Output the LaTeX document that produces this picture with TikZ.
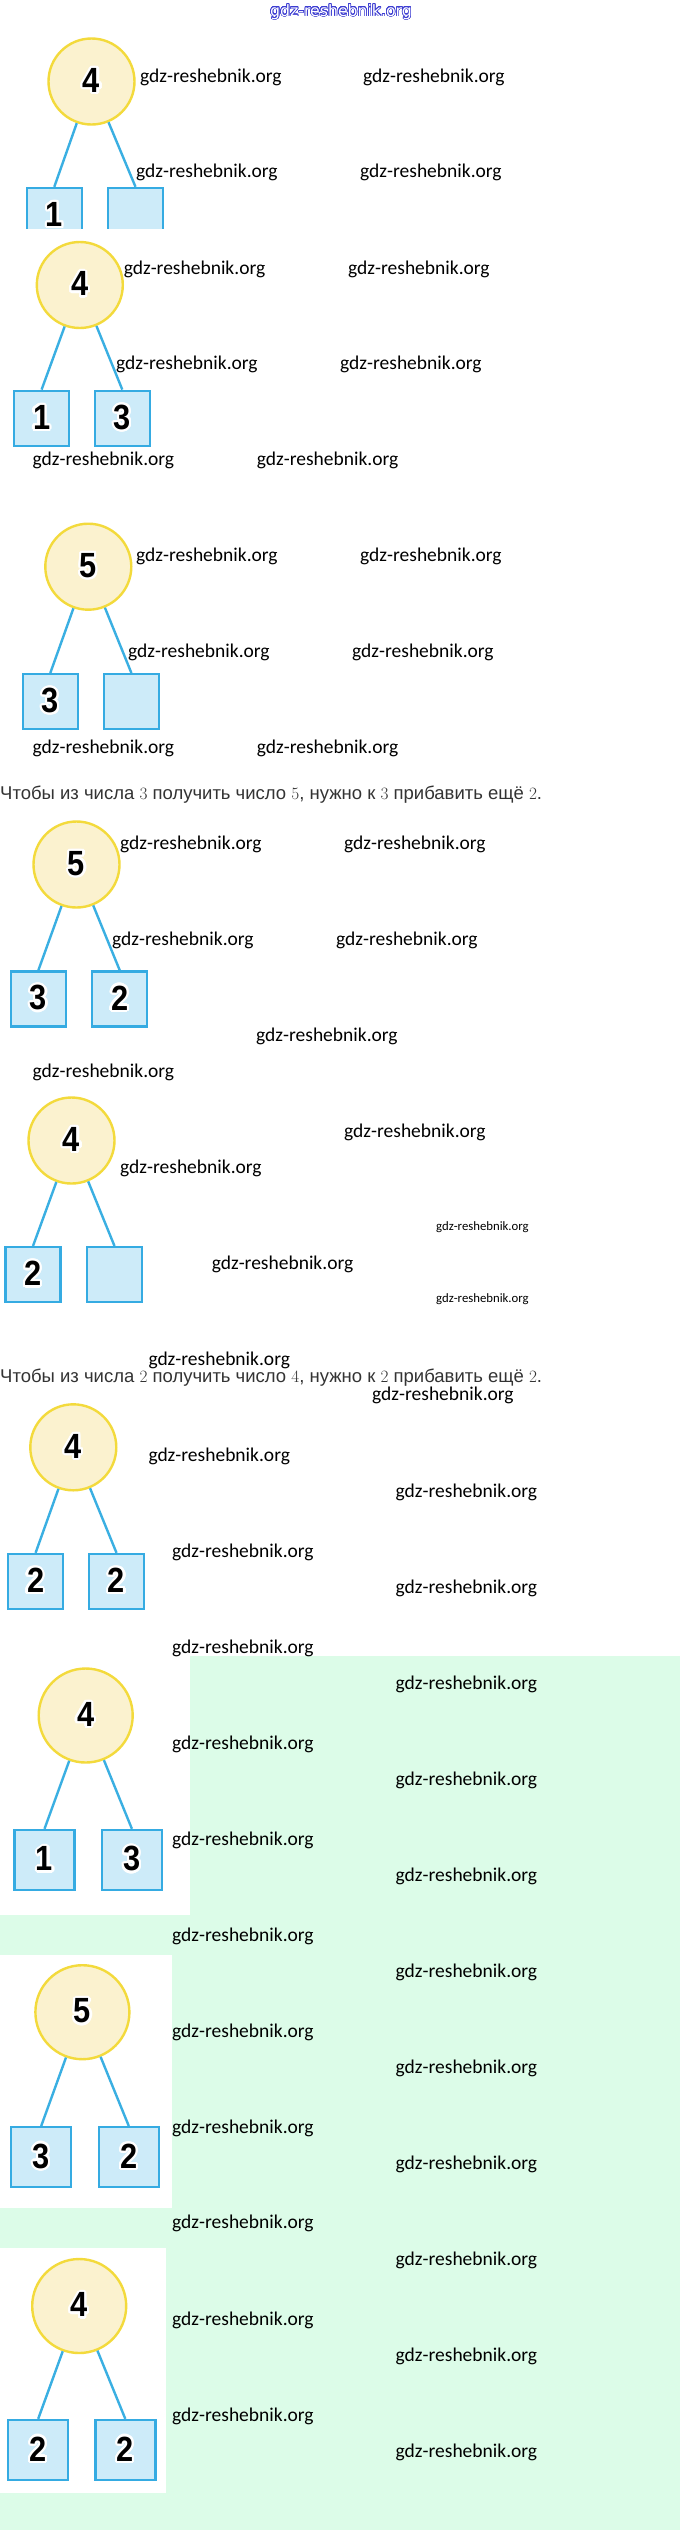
\documentclass[tikz,border=0pt]{standalone}
\usepackage[no-math]{fontspec}
\setmainfont{Liberation Sans}
\newfontfamily\wmfont{Carlito}
\newfontfamily\digfont[FakeStretch=0.88]{Liberation Sans}
\newfontfamily\ttlfont{DejaVu Sans}
\usepackage[copies]{contour}
\contourlength{2.2pt}
\contournumber{24}
\definecolor{circfill}{HTML}{FBF2CF}
\definecolor{circborder}{HTML}{F3DA3C}
\definecolor{boxfill}{HTML}{CDEBF9}
\definecolor{boxborder}{HTML}{35ABE2}
\definecolor{linecol}{HTML}{3AAFE2}
\definecolor{greenbg}{HTML}{DCFCE8}
\definecolor{titleblue}{HTML}{3C3CD2}
\definecolor{senttext}{HTML}{333333}
\newcommand\dg[1]{\contour{white}{#1}}
\begin{document}
\begin{tikzpicture}[x=1pt,y=-1pt,
  circ/.style={circle,draw=circborder,fill=circfill,line width=2.4pt,minimum size=86pt,inner sep=0pt,font=\digfont\bfseries\fontsize{35}{35}\selectfont},
  bigcirc/.style={circ,minimum size=94pt},
  sq/.style={rectangle,draw=boxborder,fill=boxfill,line width=2.4pt,minimum size=55pt,inner sep=0pt,font=\digfont\bfseries\fontsize{35}{35}\selectfont},
  bigsq/.style={sq,minimum size=60pt},
  link/.style={draw=linecol,line width=2.4pt},
  wm/.style={anchor=west,inner sep=0pt,font=\wmfont\fontsize{19.5}{22}\selectfont},
  wms/.style={anchor=west,inner sep=0pt,font=\wmfont\fontsize{12.75}{15}\selectfont},
  sent/.style={anchor=base west,inner sep=0pt,text=senttext,font=\fontsize{18.5}{22}\selectfont}]
\useasboundingbox (0,0) rectangle (680,2530);
\fill[white] (0,0) rectangle (680,2530);
% green background with white panels
\fill[greenbg] (0,1656) rectangle (680,2530);
\fill[white] (0,1656) rectangle (189.5,1915);
\fill[white] (0,1955) rectangle (172,2208);
\fill[white] (0,2248) rectangle (166,2493);
% title
\node[inner sep=0pt,text=white,font=\ttlfont\fontsize{15.7}{18}\selectfont] (title) at (341,12) {\contourlength{0.6pt}\contour{titleblue}{gdz-reshebnik.org}};
% ---- diagram 1 (cropped)
\node[circ] (c1) at (91.5,81.5) {\dg{4}};
\begin{scope}
\clip (0,0) rectangle (680,228);
\node[sq] (b1a) at (54.3,215.5) {\dg{1}};
\node[sq] (b1b) at (135.5,215.5) {};
\end{scope}
\draw[link] (c1) -- (b1a.north);
\draw[link] (c1) -- (b1b.north);
% ---- diagram 2
\node[circ] (c2) at (79.8,285) {\dg{4}};
\node[sq] (b2a) at (41.6,418.3) {\dg{1}};
\node[sq] (b2b) at (122.3,418.3) {\dg{3}};
\draw[link] (c2) -- (b2a.north);
\draw[link] (c2) -- (b2b.north);
% ---- diagram 3
\node[circ] (c3) at (88.3,566.7) {\dg{5}};
\node[sq] (b3a) at (50.3,701.7) {\dg{3}};
\node[sq] (b3b) at (131.4,701.7) {};
\draw[link] (c3) -- (b3a.north);
\draw[link] (c3) -- (b3b.north);
\node[sent] (s1) at (0,799) {Чтобы из числа $3$ получить число $5$, нужно к $3$ прибавить ещё $2$.};
% ---- diagram 4
\node[circ] (c4) at (76.5,864.5) {\dg{5}};
\node[sq] (b4a) at (38.4,998.9) {\dg{3}};
\node[sq] (b4b) at (119.7,998.9) {\dg{2}};
\draw[link] (c4) -- (b4a.north);
\draw[link] (c4) -- (b4b.north);
% ---- diagram 5
\node[circ] (c5) at (71.5,1140.5) {\dg{4}};
\node[sq] (b5a) at (33,1274.7) {\dg{2}};
\node[sq] (b5b) at (114.5,1274.7) {};
\draw[link] (c5) -- (b5a.north);
\draw[link] (c5) -- (b5b.north);
\node[sent] (s2) at (0,1382) {Чтобы из числа $2$ получить число $4$, нужно к $2$ прибавить ещё $2$.};
% ---- diagram 6
\node[circ] (c6) at (73.3,1447.3) {\dg{4}};
\node[sq] (b6a) at (35.6,1581.5) {\dg{2}};
\node[sq] (b6b) at (116.5,1581.5) {\dg{2}};
\draw[link] (c6) -- (b6a.north);
\draw[link] (c6) -- (b6b.north);
% ---- diagram 7
\node[bigcirc] (c7) at (85.7,1715.5) {\dg{4}};
\node[bigsq] (b7a) at (44.5,1860) {\dg{1}};
\node[bigsq] (b7b) at (131.9,1860) {\dg{3}};
\draw[link] (c7) -- (b7a.north);
\draw[link] (c7) -- (b7b.north);
% ---- diagram 8
\node[bigcirc] (c8) at (82.4,2012.2) {\dg{5}};
\node[bigsq] (b8a) at (41.2,2157.2) {\dg{3}};
\node[bigsq] (b8b) at (128.8,2157.2) {\dg{2}};
\draw[link] (c8) -- (b8a.north);
\draw[link] (c8) -- (b8b.north);
% ---- diagram 9
\node[bigcirc] (c9) at (79.2,2306) {\dg{4}};
\node[bigsq] (b9a) at (38.2,2450) {\dg{2}};
\node[bigsq] (b9b) at (125.3,2450) {\dg{2}};
\draw[link] (c9) -- (b9a.north);
\draw[link] (c9) -- (b9b.north);
% ---- watermarks
\node[wm] (w1) at (140,77) {gdz-reshebnik.org};
\node[wm] (w2) at (363,77) {gdz-reshebnik.org};
\node[wm] (w3) at (136,172) {gdz-reshebnik.org};
\node[wm] (w4) at (360,172) {gdz-reshebnik.org};
\node[wm] (w5) at (123.6,269.3) {gdz-reshebnik.org};
\node[wm] (w6) at (348,269.3) {gdz-reshebnik.org};
\node[wm] (w7) at (116,364.3) {gdz-reshebnik.org};
\node[wm] (w8) at (340,364.3) {gdz-reshebnik.org};
\node[wm] (w9) at (32.5,460) {gdz-reshebnik.org};
\node[wm] (w10) at (256.7,460) {gdz-reshebnik.org};
\node[wm] (w11) at (136,556.7) {gdz-reshebnik.org};
\node[wm] (w12) at (360,556.7) {gdz-reshebnik.org};
\node[wm] (w13) at (128,652.3) {gdz-reshebnik.org};
\node[wm] (w14) at (352,652.3) {gdz-reshebnik.org};
\node[wm] (w15) at (32.5,748.3) {gdz-reshebnik.org};
\node[wm] (w16) at (256.7,748.3) {gdz-reshebnik.org};
\node[wm] (w17) at (120,844.3) {gdz-reshebnik.org};
\node[wm] (w18) at (344,844.3) {gdz-reshebnik.org};
\node[wm] (w19) at (112,940) {gdz-reshebnik.org};
\node[wm] (w20) at (336,940) {gdz-reshebnik.org};
\node[wm] (w21) at (256,1036.7) {gdz-reshebnik.org};
\node[wm] (w22) at (32.5,1072.7) {gdz-reshebnik.org};
\node[wm] (w23) at (344,1132.3) {gdz-reshebnik.org};
\node[wm] (w24) at (120,1168.3) {gdz-reshebnik.org};
\node[wms] (w25) at (436,1226.7) {gdz-reshebnik.org};
\node[wm] (w26) at (211.6,1264) {gdz-reshebnik.org};
\node[wms] (w27) at (436,1298.7) {gdz-reshebnik.org};
\node[wm] (w28) at (148.3,1360) {gdz-reshebnik.org};
\node[wm] (w29) at (372,1395) {gdz-reshebnik.org};
\node[wm] (w30) at (148.3,1456.7) {gdz-reshebnik.org};
\node[wm] (w31) at (395.5,1492.7) {gdz-reshebnik.org};
\node[wm] (w32) at (172,1552.3) {gdz-reshebnik.org};
\node[wm] (w33) at (395.5,1588.3) {gdz-reshebnik.org};
\node[wm] (w34) at (172,1648.3) {gdz-reshebnik.org};
\node[wm] (w35) at (395.5,1684.3) {gdz-reshebnik.org};
\node[wm] (w36) at (172,1744) {gdz-reshebnik.org};
\node[wm] (w37) at (395.5,1780) {gdz-reshebnik.org};
\node[wm] (w38) at (172,1840) {gdz-reshebnik.org};
\node[wm] (w39) at (395.5,1876) {gdz-reshebnik.org};
\node[wm] (w40) at (172,1936) {gdz-reshebnik.org};
\node[wm] (w41) at (395.5,1972.7) {gdz-reshebnik.org};
\node[wm] (w42) at (172,2032.3) {gdz-reshebnik.org};
\node[wm] (w43) at (395.5,2068.3) {gdz-reshebnik.org};
\node[wm] (w44) at (172,2128.3) {gdz-reshebnik.org};
\node[wm] (w45) at (395.5,2164.3) {gdz-reshebnik.org};
\node[wm] (w46) at (172,2223.5) {gdz-reshebnik.org};
\node[wm] (w47) at (395.5,2260) {gdz-reshebnik.org};
\node[wm] (w48) at (172,2320) {gdz-reshebnik.org};
\node[wm] (w49) at (395.5,2356) {gdz-reshebnik.org};
\node[wm] (w50) at (172,2416) {gdz-reshebnik.org};
\node[wm] (w51) at (395.5,2452.3) {gdz-reshebnik.org};
\end{tikzpicture}
\end{document}
